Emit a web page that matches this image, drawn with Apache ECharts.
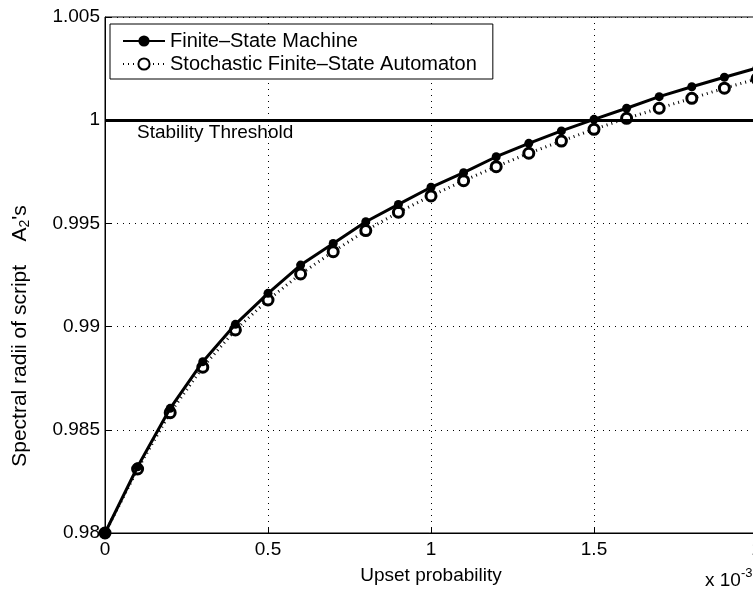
<!DOCTYPE html>
<html><head><meta charset="utf-8">
<script src="https://cdn.jsdelivr.net/npm/echarts@6/dist/echarts.min.js"></script>
<style>html,body{margin:0;padding:0;background:#fff}#c{width:753px;height:591px}</style>
</head><body><div id="c"></div>
<script>
const xValues = [0,0.1,0.2,0.3,0.4,0.5,0.6,0.7,0.8,0.9,1.0,1.1,1.2,1.3,1.4,1.5,1.6,1.7,1.8,1.9,2.0];
const fsm = [0.98,0.98321,0.98604,0.98830,0.99011,0.99161,0.99298,0.99403,0.99508,0.99592,0.99675,0.99746,0.99823,0.99888,0.99948,1.00004,1.00058,1.00114,1.00162,1.00208,1.00253];
const sfsa = [0.98,0.98310,0.98583,0.98803,0.98984,0.99129,0.99255,0.99363,0.99465,0.99554,0.99633,0.99707,0.99775,0.99840,0.99899,0.99956,1.00009,1.00058,1.00106,1.00155,1.00200];
const threshold = 1;
const seriesNames = ['Finite\u2013State Machine','Stochastic Finite\u2013State Automaton'];
const xTitle = 'Upset probability';
const yTitleMain = 'Spectral radii of script    A';
const yTitleSub = '2';
const yTitleEnd = '\'s';
const thresholdLabel = 'Stability Threshold';
const xScaleBase = 'x 10';
const xScaleExp = '-3';

const font = 'Liberation Sans, Arial, Helvetica, sans-serif';
const chart = echarts.init(document.getElementById('c'), null, {renderer:'canvas'});
const pair = (ys) => xValues.map((x,i)=>[x, ys[i]]);
chart.setOption({
  animation:false,
  backgroundColor:'#fff',
  grid:{left:105, top:17, width:652, height:516, outerBoundsMode:'none', containLabel:false,
        show:true, borderColor:'#000', borderWidth:1, backgroundColor:'transparent'},
  xAxis:{type:'value', min:0, max:2, interval:0.5,
    name:xTitle, nameLocation:'middle', nameGap:33,
    nameTextStyle:{fontFamily:font, fontSize:19, color:'#000'},
    axisLine:{lineStyle:{color:'#000', width:1}},
    axisTick:{inside:true, length:6, lineStyle:{color:'#000'}},
    axisLabel:{fontFamily:font, fontSize:19, color:'#000', margin:7, formatter:v=>String(parseFloat(v.toFixed(2)))},
    splitLine:{show:true, lineStyle:{color:'#000', type:[1,5], width:1}}
  },
  yAxis:{type:'value', min:0.98, max:1.005, interval:0.005,
    axisLine:{lineStyle:{color:'#000', width:1}},
    axisTick:{inside:true, length:6, lineStyle:{color:'#000'}},
    axisLabel:{fontFamily:font, fontSize:19, color:'#000', margin:5, formatter:v=>String(parseFloat(v.toFixed(3)))},
    splitLine:{show:true, lineStyle:{color:'#000', type:[1,5], width:1}}
  },
  legend:{orient:'vertical', left:110, top:24, padding:[7,16,5,12], itemGap:3, itemWidth:42, itemHeight:14,
    backgroundColor:'#fff', borderColor:'#000', borderWidth:1,
    textStyle:{fontFamily:font, fontSize:20, color:'#000'},
    data:seriesNames},
  series:[
    {name:seriesNames[0], type:'line', data:pair(fsm), symbol:'circle', symbolSize:9,
     itemStyle:{color:'#000'}, lineStyle:{color:'#000', width:3}, z:3,
     markLine:{silent:true, symbol:'none', data:[{yAxis:threshold}],
       lineStyle:{color:'#000', width:3, type:'solid'},
       label:{show:true, position:'insideStartBottom', formatter:thresholdLabel, fontFamily:font, fontSize:19, color:'#000', distance:[32,3]}}},
    {name:seriesNames[1], type:'line', data:pair(sfsa), symbol:'circle', symbolSize:10,
     itemStyle:{color:'#fff', borderColor:'#000', borderWidth:3}, lineStyle:{color:'#000', width:3, type:[1,4]}, z:2}
  ],
  graphic:[
    {type:'text', x:20, y:336, rotation:Math.PI/2,
     style:{text:'{a|'+yTitleMain+'}{s|'+yTitleSub+'}{a|'+yTitleEnd+'}', align:'center', verticalAlign:'middle',
       rich:{a:{fontFamily:font, fontSize:21, fill:'#000'}, s:{fontFamily:font, fontSize:14, fill:'#000', verticalAlign:'bottom', padding:[10,0,0,0]}}}},
    {type:'text', left:705, top:567, style:{text:'{a|'+xScaleBase+'}{s|'+xScaleExp+'}', rich:{a:{fontFamily:font, fontSize:19, fill:'#000'}, s:{fontFamily:font, fontSize:13, fill:'#000', verticalAlign:'top', padding:[0,0,14,0]}}}}
  ]
});
</script></body></html>
